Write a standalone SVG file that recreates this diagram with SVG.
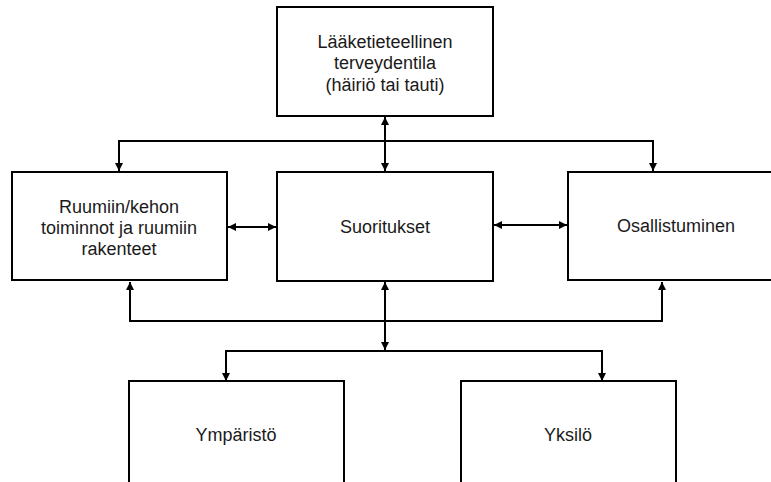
<svg xmlns="http://www.w3.org/2000/svg" width="771" height="482" viewBox="0 0 771 482">
<style>
.box{fill:#fff;stroke:#000;stroke-width:2}
.t{font-family:"Liberation Sans",Arial,sans-serif;font-size:18px;fill:#1a1a1a;text-anchor:middle;dominant-baseline:central}
.c{fill:none;stroke:#000;stroke-width:2}
</style>
<defs>
<marker id="ah" viewBox="0 0 8 8" refX="8" refY="4" markerWidth="4" markerHeight="4" orient="auto-start-reverse" markerUnits="strokeWidth">
<path d="M0,0 L8,4 L0,8 z" fill="#000"/>
</marker>
</defs>
<rect width="771" height="482" fill="#fff"/>
<g id="connectors">
<path class="c" d="M385,117 V171" marker-start="url(#ah)" marker-end="url(#ah)"/>
<path class="c" d="M119,171 V141 H653 V171" marker-start="url(#ah)" marker-end="url(#ah)"/>
<path class="c" d="M228,227 H276" marker-start="url(#ah)" marker-end="url(#ah)"/>
<path class="c" d="M494,225 H567" marker-start="url(#ah)" marker-end="url(#ah)"/>
<path class="c" d="M130,282 V321 H662 V282" marker-start="url(#ah)" marker-end="url(#ah)"/>
<path class="c" d="M385,282 V350" marker-start="url(#ah)" marker-end="url(#ah)"/>
<path class="c" d="M226,381 V351 H602 V381" marker-start="url(#ah)" marker-end="url(#ah)"/>
</g>
<g id="n-top">
<rect class="box" x="277" y="7" width="216" height="109"/>
<text class="t" x="385" y="42">Lääketieteellinen</text>
<text class="t" x="385" y="63">terveydentila</text>
<text class="t" x="385" y="85">(häiriö tai tauti)</text>
</g>
<g id="n-left">
<rect class="box" x="12" y="172" width="215" height="108"/>
<text class="t" x="119" y="207">Ruumiin/kehon</text>
<text class="t" x="119" y="228">toiminnot ja ruumiin</text>
<text class="t" x="119" y="249">rakenteet</text>
</g>
<g id="n-mid">
<rect class="box" x="277" y="172" width="216" height="109"/>
<text class="t" x="385" y="227">Suoritukset</text>
</g>
<g id="n-right">
<rect class="box" x="568" y="172" width="210" height="108"/>
<text class="t" x="676" y="226">Osallistuminen</text>
</g>
<g id="n-env">
<rect class="box" x="129" y="381" width="215" height="110"/>
<text class="t" x="236" y="435">Ympäristö</text>
</g>
<g id="n-ind">
<rect class="box" x="461" y="381" width="215" height="110"/>
<text class="t" x="568" y="435">Yksilö</text>
</g>
</svg>
